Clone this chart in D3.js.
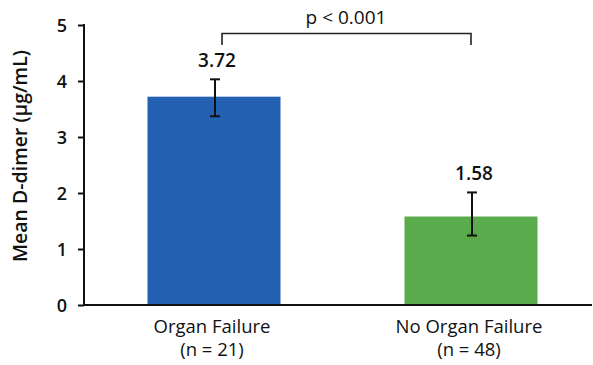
<!DOCTYPE html>
<html><head><meta charset="utf-8">
<script src="https://cdn.jsdelivr.net/npm/d3@7"></script>
<style>body{margin:0;background:#fff}svg{display:block}text{font-family:"Open Sans",sans-serif;fill:#111}</style>
</head><body><svg id="c" width="593" height="365"></svg>
<script>
const categories = ["Organ Failure", "No Organ Failure"];
const sampleLabels = ["(n = 21)", "(n = 48)"];
const means = [3.72, 1.58];
const errLow = [3.37, 1.24];
const errHigh = [4.03, 2.01];
const colors = ["#2461b3", "#5aab4b"];
const yTicks = [0, 1, 2, 3, 4, 5];
const yTitle = "Mean D-dimer (µg/mL)";
const pLabel = "p < 0.001";

const svg = d3.select("#c");
const x0 = 84, x1 = 592, yTop = 25, yBot = 305;
const y = d3.scaleLinear().domain([0, 5]).range([yBot, yTop]);
const x = d3.scalePoint().domain(categories).range([214, 471]);
const bw = 133;

svg.selectAll("rect.bar").data(categories).enter().append("rect")
  .attr("x", d => x(d) - bw / 2).attr("width", bw)
  .attr("y", (d, i) => y(means[i])).attr("height", (d, i) => y(0) - y(means[i]))
  .attr("fill", (d, i) => colors[i]);

const yAxis = d3.axisLeft(y).tickValues(yTicks).tickSize(6).tickPadding(11).tickFormat(d3.format("d"));
const gy = svg.append("g").attr("transform", `translate(${x0},0)`).call(yAxis);
gy.select(".domain").remove();
gy.selectAll(".tick line").attr("stroke", "#111").attr("stroke-width", 2);
gy.selectAll(".tick text").style("font-size", "18px").attr("fill", "#111").style("font-weight", 600).attr("dy", "0.36em");
svg.append("line").attr("x1", x0).attr("x2", x0).attr("y1", yTop - 1).attr("y2", yBot + 1).attr("stroke", "#111").attr("stroke-width", 2);
svg.append("line").attr("x1", x0 - 1).attr("x2", x1).attr("y1", yBot).attr("y2", yBot).attr("stroke", "#111").attr("stroke-width", 2);

const eb = svg.append("g").attr("stroke", "#111").attr("stroke-width", 2);
categories.forEach((c, i) => {
  const xc = x(c) + 1;
  eb.append("line").attr("x1", xc).attr("x2", xc).attr("y1", y(errHigh[i])).attr("y2", y(errLow[i]));
  eb.append("line").attr("x1", xc - 5).attr("x2", xc + 5).attr("y1", y(errHigh[i])).attr("y2", y(errHigh[i]));
  eb.append("line").attr("x1", xc - 5).attr("x2", xc + 5).attr("y1", y(errLow[i])).attr("y2", y(errLow[i]));
  svg.append("text").attr("x", xc + 2).attr("y", y(errHigh[i]) - 12).attr("text-anchor", "middle")
    .style("font-size", "19px").style("font-weight", 600).text(means[i].toFixed(2));
  svg.append("text").attr("x", xc - 3).attr("y", 333).attr("text-anchor", "middle")
    .style("font-size", "18.5px").style("font-weight", 500).text(c);
  svg.append("text").attr("x", xc - 3).attr("y", 356).attr("text-anchor", "middle")
    .style("font-size", "18.5px").style("font-weight", 500).text(sampleLabels[i]);
});

const bl = x(categories[0]) + 8, br = x(categories[1]);
svg.append("path").attr("d", `M${bl},45V33.5H${br}V45`).attr("fill", "none").attr("stroke", "#222").attr("stroke-width", 1.6);
svg.append("text").attr("x", 346).attr("y", 24).attr("text-anchor", "middle")
  .style("font-size", "19px").style("font-weight", 500).text(pLabel);

svg.append("text").attr("transform", `translate(27,156) rotate(-90)`).attr("text-anchor", "middle")
  .style("font-size", "19.5px").style("font-weight", 600).text(yTitle);
</script></body></html>
